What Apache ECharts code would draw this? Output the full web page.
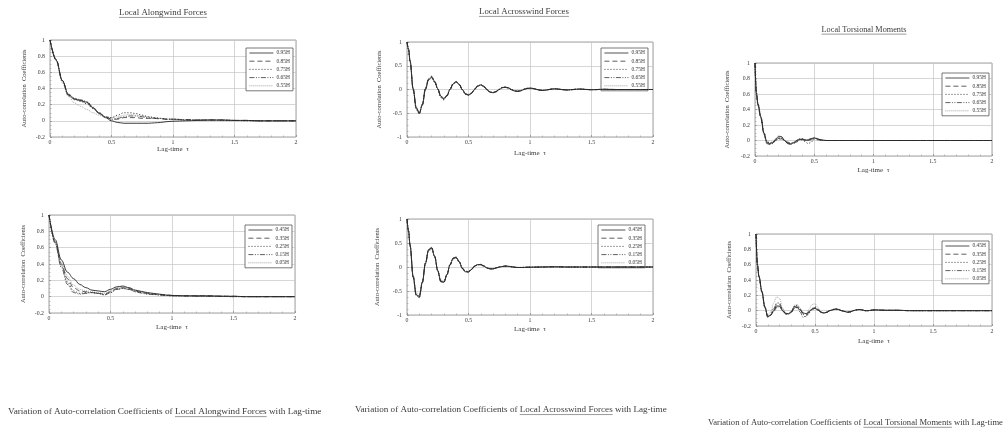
<!DOCTYPE html>
<html><head><meta charset="utf-8">
<script src="https://cdn.jsdelivr.net/npm/echarts@6/dist/echarts.min.js"></script>
<style>html,body{margin:0;padding:0;background:#fff}#c{width:1005px;height:432px}</style>
</head><body><div id="c"></div>
<script>
// ---------- data ----------
const namesUpper = ['0.95H','0.85H','0.75H','0.65H','0.55H'];
const namesLower = ['0.45H','0.35H','0.25H','0.15H','0.05H'];
const xTicks = [0, 0.5, 1, 1.5, 2];
const yTicksCoef = [-0.2, 0, 0.2, 0.4, 0.6, 0.8, 1];
const yTicksAcross = [-1, -0.5, 0, 0.5, 1];

const xsA = [0,0.05,0.1,0.15,0.2,0.25,0.3,0.35,0.4,0.45, 0.5,0.55,0.6,0.65,0.7,0.75,0.8,0.85,0.9,0.95, 1.0,1.1,1.2,1.3,1.4,1.5,1.6,1.7,1.8,1.9, 2.0];
const xsC = [0,0.0125,0.025,0.05,0.075,0.1,0.125,0.15,0.175,0.2, 0.225,0.25,0.275,0.3,0.325,0.35,0.375,0.4,0.425,0.45, 0.475,0.5,0.525,0.55,0.575,0.6,0.625,0.65,0.675,0.7, 0.725,0.75,0.775,0.8,0.825,0.85,0.875,0.9,0.925,0.95, 0.975,1.0,1.1,1.2,1.3,1.4,1.5,1.6,1.7,1.8, 1.9,2.0];

// Local Alongwind Forces (upper levels)
const a95 = [1,0.75,0.5,0.32,0.27,0.25,0.23,0.16,0.09,0.04, 0.0,-0.02,-0.03,-0.03,-0.03,-0.03,-0.03,-0.025,-0.02,-0.01, -0.005,0,0.005,0.01,0.01,0.005,0.005,0,0,0, 0];
const a85 = [1,0.76,0.5,0.32,0.27,0.25,0.22,0.16,0.1,0.05, 0.02,0.02,0.04,0.04,0.04,0.03,0.03,0.03,0.025,0.02, 0.02,0.015,0.01,0.01,0.01,0.005,0.005,0,0,0, 0];
const a75 = [1,0.75,0.49,0.31,0.26,0.24,0.21,0.15,0.09,0.05, 0.04,0.07,0.1,0.1,0.09,0.07,0.05,0.04,0.03,0.02, 0.02,0.01,0.01,0.01,0.005,0.005,0,0,0,0, 0];
const a65 = [1,0.76,0.5,0.33,0.28,0.26,0.24,0.17,0.1,0.05, 0.02,0.03,0.05,0.06,0.06,0.05,0.04,0.03,0.03,0.02, 0.02,0.015,0.01,0.01,0.01,0.005,0.005,0,0,0, 0];
const a55 = [1,0.74,0.47,0.3,0.22,0.18,0.14,0.1,0.07,0.05, 0.04,0.05,0.07,0.08,0.07,0.06,0.05,0.04,0.03,0.02, 0.02,0.01,0.01,0.01,0.005,0,0,0,0,0, 0];
// Local Alongwind Forces (lower levels)
const b45 = [1,0.7,0.45,0.3,0.22,0.15,0.11,0.08,0.07,0.06, 0.09,0.12,0.13,0.11,0.08,0.065,0.05,0.04,0.03,0.02, 0.015,0.01,0.01,0.01,0.005,0.005,0,0,0,0, 0];
const b35 = [1,0.67,0.4,0.22,0.11,0.07,0.06,0.05,0.04,0.03, 0.06,0.1,0.11,0.1,0.07,0.055,0.04,0.03,0.025,0.02, 0.015,0.01,0.01,0.01,0.005,0.005,0,0,0,0, 0];
const b25 = [1,0.66,0.38,0.18,0.07,0.04,0.05,0.05,0.04,0.025, 0.05,0.09,0.1,0.09,0.065,0.05,0.035,0.03,0.02,0.015, 0.01,0.01,0.01,0.005,0.005,0,0,0,0,0, 0];
const b15 = [1,0.65,0.36,0.15,0.05,0.03,0.04,0.05,0.04,0.02, 0.05,0.09,0.1,0.09,0.06,0.045,0.03,0.025,0.02,0.015, 0.01,0.01,0.005,0.005,0.005,0,0,0,0,0, 0];
const b05 = [1,0.68,0.42,0.25,0.14,0.09,0.07,0.06,0.05,0.04, 0.07,0.11,0.12,0.11,0.08,0.06,0.045,0.035,0.03,0.02, 0.015,0.01,0.01,0.01,0.005,0.005,0,0,0,0, 0];
// Local Acrosswind Forces (upper levels)
const c95 = [1,0.85,0.6,0.02,-0.38,-0.5,-0.33,0.0,0.2,0.26, 0.17,0.02,-0.14,-0.19,-0.13,0.0,0.12,0.16,0.11,0.0, -0.09,-0.12,-0.08,0.0,0.07,0.1,0.07,0.0,-0.05,-0.07, -0.05,0.0,0.04,0.05,0.035,0.0,-0.03,-0.04,-0.03,0.0, 0.02,0.03,-0.02,0.015,-0.01,0.01,-0.005,0.005,0,0, 0,0];
const c85 = [1,0.85,0.59,0.0,-0.4,-0.5,-0.32,0.01,0.22,0.28, 0.18,0.01,-0.16,-0.21,-0.14,0.0,0.13,0.17,0.11,-0.01, -0.1,-0.13,-0.08,0.01,0.08,0.1,0.06,-0.01,-0.06,-0.07, -0.04,0.01,0.04,0.05,0.03,-0.01,-0.035,-0.04,-0.025,0.005, 0.025,0.03,-0.02,0.015,-0.01,0.01,-0.005,0.005,0,0, 0,0];
const c75 = [1,0.84,0.58,-0.02,-0.42,-0.52,-0.3,0.03,0.23,0.27, 0.16,0.0,-0.17,-0.22,-0.13,0.01,0.13,0.16,0.1,-0.01, -0.1,-0.12,-0.07,0.01,0.08,0.1,0.06,-0.01,-0.06,-0.065, -0.04,0.01,0.045,0.05,0.03,-0.01,-0.035,-0.035,-0.02,0.01, 0.025,0.025,-0.02,0.015,-0.01,0.01,-0.005,0.005,0,0, 0,0];
const c65 = [1,0.85,0.6,0.01,-0.39,-0.49,-0.31,0.02,0.21,0.25, 0.15,0.01,-0.15,-0.2,-0.12,0.01,0.12,0.15,0.1,0.0, -0.09,-0.11,-0.07,0.01,0.07,0.09,0.06,0.0,-0.05,-0.06, -0.04,0.0,0.035,0.045,0.03,0.0,-0.03,-0.035,-0.025,0.0, 0.02,0.025,-0.015,0.01,-0.01,0.005,-0.005,0,0,0, 0,0];
const c55 = [1,0.86,0.62,0.04,-0.36,-0.47,-0.31,0.0,0.19,0.24, 0.16,0.02,-0.13,-0.18,-0.12,0.0,0.11,0.15,0.1,0.0, -0.08,-0.11,-0.07,0.0,0.06,0.09,0.06,0.0,-0.05,-0.06, -0.04,0.0,0.035,0.045,0.03,0.0,-0.025,-0.035,-0.025,0.0, 0.02,0.025,-0.015,0.01,-0.005,0.005,0,0,0,0, 0,0];
// Local Acrosswind Forces (lower levels)
const d45 = [1,0.75,0.45,-0.2,-0.58,-0.62,-0.32,0.08,0.35,0.4, 0.22,-0.08,-0.3,-0.32,-0.16,0.05,0.18,0.2,0.11,-0.03, -0.1,-0.1,-0.05,0.02,0.05,0.05,0.02,-0.02,-0.04,-0.04, -0.02,0,0.01,0.02,0.015,0.005,-0.005,-0.01,-0.01,-0.01, -0.005,-0.005,0,0.005,0,0,0,0,0,0, 0,0];
const d35 = [1,0.74,0.43,-0.22,-0.6,-0.64,-0.33,0.08,0.36,0.42, 0.23,-0.08,-0.31,-0.33,-0.16,0.05,0.19,0.21,0.11,-0.03, -0.1,-0.11,-0.05,0.02,0.05,0.055,0.02,-0.02,-0.04,-0.04, -0.02,0,0.01,0.02,0.015,0.005,-0.005,-0.01,-0.01,-0.01, -0.005,-0.005,0,0.005,0,0,0,0,0,0, 0,0];
const d25 = [1,0.74,0.44,-0.21,-0.59,-0.63,-0.31,0.09,0.36,0.41, 0.21,-0.09,-0.3,-0.31,-0.15,0.06,0.18,0.19,0.1,-0.04, -0.1,-0.09,-0.04,0.02,0.05,0.045,0.015,-0.02,-0.035,-0.035, -0.015,0,0.01,0.015,0.01,0.005,-0.005,-0.01,-0.01,-0.005, -0.005,0,0,0,0,0,0,0,0,0, 0,0];
const d15 = [1,0.76,0.46,-0.19,-0.57,-0.6,-0.31,0.07,0.34,0.39, 0.22,-0.07,-0.29,-0.31,-0.16,0.04,0.17,0.19,0.11,-0.02, -0.09,-0.1,-0.05,0.015,0.045,0.05,0.02,-0.015,-0.035,-0.04, -0.02,0,0.01,0.02,0.015,0.005,-0.005,-0.01,-0.01,-0.01, -0.005,-0.005,0,0.005,0,0,0,0,0,0, 0,0];
const d05 = [1,0.77,0.48,-0.16,-0.54,-0.58,-0.3,0.06,0.32,0.37, 0.21,-0.06,-0.27,-0.29,-0.15,0.04,0.16,0.18,0.1,-0.02, -0.08,-0.09,-0.05,0.01,0.04,0.045,0.02,-0.01,-0.03,-0.035, -0.02,0,0.01,0.015,0.01,0.005,-0.005,-0.01,-0.01,-0.005, -0.005,0,0,0,0,0,0,0,0,0, 0,0];
// Local Torsional Moments (upper levels)
const t95 = [1,0.6,0.47,0.3,0.1,-0.02,-0.04,-0.03,0.02,0.055, 0.05,0.0,-0.04,-0.05,-0.03,-0.01,0.01,0.015,0.0,0.01, 0.025,0.035,0.02,0.01,0.005,0,0,0,0,0, 0,0,0,0,0,0,0,0,0,0, 0,0,0,0,0,0,0,0,0,0, 0,0];
const t85 = [1,0.58,0.45,0.28,0.08,-0.04,-0.05,-0.03,0.0,0.02, 0.02,0.0,-0.03,-0.04,-0.04,-0.02,0.0,0.01,0.01,0.015, 0.02,0.02,0.01,0.005,0,0,0,0,0,0, 0,0,0,0,0,0,0,0,0,0, 0,0,0,0,0,0,0,0,0,0, 0,0];
const t75 = [1,0.62,0.48,0.31,0.11,-0.01,-0.03,-0.02,0.01,0.03, 0.03,0.0,-0.03,-0.045,-0.03,0.0,0.02,0.02,-0.02,-0.04, -0.02,0.02,0.025,0.01,0,0,0,0,0,0, 0,0,0,0,0,0,0,0,0,0, 0,0,0,0,0,0,0,0,0,0, 0,0];
const t65 = [1,0.6,0.46,0.29,0.09,-0.03,-0.05,-0.04,0.0,0.03, 0.03,0.0,-0.02,-0.035,-0.025,0.0,0.015,0.02,0.01,0.0, 0.01,0.03,0.02,0.01,0,0,0,0,0,0, 0,0,0,0,0,0,0,0,0,0, 0,0,0,0,0,0,0,0,0,0, 0,0];
const t55 = [1,0.61,0.47,0.3,0.1,-0.02,-0.03,-0.02,0.01,0.04, 0.04,0.0,-0.035,-0.04,-0.02,0.0,0.02,0.025,0.015,0.005, 0.015,0.04,0.03,0.015,0.005,0,0,0,0,0, 0,0,0,0,0,0,0,0,0,0, 0,0,0,0,0,0,0,0,0,0, 0,0];
// Local Torsional Moments (lower levels)
const s45 = [1,0.6,0.45,0.25,0.05,-0.08,-0.06,0.0,0.06,0.06, 0.0,-0.04,-0.04,-0.01,0.05,0.04,0.01,-0.03,-0.04,-0.01, 0.02,0.03,0.01,-0.02,-0.03,-0.02,0.0,0.01,0.02,0.015, 0.0,-0.01,-0.02,-0.015,0.0,0.01,0.015,0.01,0.0,0.0, 0.005,0.01,0.005,0.005,0,0,0,0,0,0, 0,0];
const s35 = [1,0.58,0.44,0.24,0.04,-0.09,-0.06,0.02,0.08,0.08, 0.01,-0.04,-0.05,-0.02,0.05,0.05,0.01,-0.04,-0.06,-0.02, 0.02,0.04,0.02,-0.02,-0.035,-0.02,0.0,0.015,0.02,0.015, 0.0,-0.01,-0.02,-0.015,0.0,0.01,0.015,0.01,0.0,0.0, 0.005,0.01,0.005,0.005,0,0,0,0,0,0, 0,0];
const s25 = [1,0.59,0.44,0.24,0.04,-0.08,-0.05,0.03,0.1,0.1, 0.02,-0.04,-0.05,-0.02,0.06,0.07,0.02,-0.05,-0.08,-0.03, 0.03,0.05,0.02,-0.02,-0.035,-0.02,0.0,0.015,0.025,0.015, 0.0,-0.01,-0.02,-0.015,0.0,0.01,0.015,0.01,0.0,0.0, 0.005,0.01,0.005,0.005,0,0,0,0,0,0, 0,0];
const s15 = [1,0.6,0.45,0.25,0.05,-0.07,-0.06,-0.01,0.04,0.05, 0.0,-0.03,-0.04,-0.02,0.03,0.04,-0.02,-0.09,-0.06,-0.02, 0.01,0.03,0.01,-0.02,-0.03,-0.02,0.0,0.01,0.02,0.015, 0.0,-0.01,-0.02,-0.015,0.0,0.01,0.015,0.01,0.0,0.0, 0.005,0.01,0.005,0.005,0,0,0,0,0,0, 0,0];
const s05 = [1,0.61,0.46,0.26,0.06,-0.06,-0.02,0.1,0.18,0.16, 0.04,-0.03,-0.04,0.0,0.07,0.08,0.03,-0.03,-0.04,0.02, 0.08,0.09,0.04,-0.01,-0.03,-0.02,0.0,0.015,0.025,0.02, 0.0,-0.01,-0.02,-0.015,0.0,0.01,0.015,0.01,0.0,0.0, 0.005,0.01,0.005,0.005,0,0,0,0,0,0, 0,0];

const titles = ['Local Alongwind Forces', 'Local Acrosswind Forces', 'Local Torsional Moments'];
const capPrefix = 'Variation of Auto-correlation Coefficients of ';
const capSuffix = ' with Lag-time';
const yName = 'Auto-correlation  Coefficients';
const xName = 'Lag-time  \u03c4';

// ---------- layout / styles ----------
const FONT = '"Liberation Serif","DejaVu Serif",serif';
const TXT = '#3a3a3a';
const LINESTY = [
  {type: 'solid', width: 0.9, color: '#262626'},
  {type: [5, 3], width: 0.8, color: '#333'},
  {type: [1.2, 1.8], width: 0.9, color: '#333'},
  {type: [5, 1.5, 1, 1.5, 1, 1.5], width: 0.8, color: '#333'},
  {type: [1, 1], width: 0.7, color: '#8a8a8a'}
];

const panels = [
  {names: namesUpper, xs: xsA, ys: [a95,a85,a75,a65,a55], yt: yTicksCoef, grid: {left: 50, top: 40, width: 246, height: 97}, leg: {left: 246, top: 48}, xg: 8, yg: 22},
  {names: namesUpper, xs: xsC, ys: [c95,c85,c75,c65,c55], yt: yTicksAcross, grid: {left: 407, top: 42, width: 246, height: 95}, leg: {left: 601, top: 48}, xg: 13, yg: 24},
  {names: namesUpper, xs: xsC, ys: [t95,t85,t75,t65,t55], yt: yTicksCoef, grid: {left: 755, top: 63, width: 237, height: 93}, leg: {left: 942, top: 73}, xg: 11, yg: 24},
  {names: namesLower, xs: xsA, ys: [b45,b35,b25,b15,b05], yt: yTicksCoef, grid: {left: 49, top: 215, width: 246, height: 98}, leg: {left: 245, top: 225}, xg: 11, yg: 22},
  {names: namesLower, xs: xsC, ys: [d45,d35,d25,d15,d05], yt: yTicksAcross, grid: {left: 407, top: 219, width: 246, height: 96}, leg: {left: 598, top: 225}, xg: 11, yg: 26},
  {names: namesLower, xs: xsC, ys: [s45,s35,s25,s15,s05], yt: yTicksCoef, grid: {left: 756, top: 234, width: 236, height: 92}, leg: {left: 942, top: 241}, xg: 12, yg: 23}
];

const cv = document.createElement('canvas').getContext('2d');
function measure(t, fs) { cv.font = fs + 'px ' + FONT; return cv.measureText(t).width; }

const grids = [], xAxes = [], yAxes = [], series = [], legends = [];
panels.forEach((p, i) => {
  grids.push(Object.assign({show: true, borderColor: '#8c8c8c', borderWidth: 0.8, backgroundColor: '#fff'}, p.grid));
  xAxes.push({
    type: 'value', gridIndex: i, min: xTicks[0], max: xTicks[xTicks.length - 1], interval: xTicks[1] - xTicks[0],
    name: xName, nameLocation: 'middle', nameGap: p.xg,
    nameTextStyle: {fontFamily: FONT, fontSize: 7, color: TXT},
    axisLine: {show: false, onZero: false},
    axisTick: {show: true, inside: true, length: 2, lineStyle: {color: '#777', width: 0.6}},
    minorTick: {show: true, splitNumber: 5, length: 1.5, lineStyle: {color: '#888', width: 0.5}},
    axisLabel: {fontFamily: FONT, fontSize: 5.8, color: TXT, margin: 2},
    splitLine: {show: true, lineStyle: {color: '#c4c4c4', width: 0.7}}
  });
  const yt = p.yt;
  yAxes.push({
    type: 'value', gridIndex: i, min: yt[0], max: yt[yt.length - 1], interval: yt[1] - yt[0],
    name: yName, nameLocation: 'middle', nameGap: p.yg,
    nameTextStyle: {fontFamily: FONT, fontSize: 6.5, color: TXT},
    axisLine: {show: false, onZero: false},
    axisTick: {show: true, inside: true, length: 2, lineStyle: {color: '#777', width: 0.6}},
    minorTick: {show: true, splitNumber: 4, length: 1.5, lineStyle: {color: '#888', width: 0.5}},
    axisLabel: {fontFamily: FONT, fontSize: 5.8, color: TXT, margin: 5},
    splitLine: {show: true, lineStyle: {color: '#c4c4c4', width: 0.7}}
  });
  p.ys.forEach((ys, k) => {
    series.push({
      type: 'line', name: p.names[k], xAxisIndex: i, yAxisIndex: i,
      data: p.xs.map((x, j) => [x, ys[j]]),
      showSymbol: false, symbol: 'none', smooth: 0.35, smoothMonotone: 'x',
      lineStyle: Object.assign({}, LINESTY[k]), itemStyle: {color: LINESTY[k].color},
      z: 10 - k, animation: false
    });
  });
  legends.push({
    data: p.names, left: p.leg.left, top: p.leg.top, orient: 'vertical',
    itemWidth: 24, itemHeight: 5, itemGap: 2.2, padding: [2, 3, 2, 3],
    borderColor: '#555', borderWidth: 0.8, backgroundColor: '#fff',
    selectedMode: false, itemStyle: {opacity: 0},
    lineStyle: {width: 0.8},
    textStyle: {fontFamily: FONT, fontSize: 5.5, color: TXT, padding: [0, 0, 0, -2]}
  });
});

// titles & captions (underlined phrases)
const graphics = [];
function underlinedText(parts, leftX, midY, fs) {
  const full = parts.join('');
  graphics.push({type: 'text', x: leftX, y: midY, silent: true,
    style: {text: full, fontFamily: FONT, fontSize: fs, fill: TXT, textAlign: 'left', textVerticalAlign: 'middle', align: 'left', verticalAlign: 'middle'}});
  const x1 = leftX + measure(parts[0], fs);
  const x2 = x1 + measure(parts[1], fs);
  graphics.push({type: 'line', silent: true, shape: {x1: x1, y1: midY + fs * 0.5, x2: x2, y2: midY + fs * 0.5}, style: {stroke: '#555', lineWidth: 0.6}});
}
function fitSize(text, width) { return 10 * width / measure(text, 10); }
[[163, 13, 88], [524, 12, 90], [864, 30, 85]].forEach((t, i) => {
  const fs = fitSize(titles[i], t[2]);
  const w = measure(titles[i], fs);
  underlinedText(['', titles[i], ''], t[0] - w / 2, t[1], fs);
});
[[8, 412, 314], [355, 410, 312], [708, 423, 295]].forEach((c, i) => {
  const full = capPrefix + titles[i] + capSuffix;
  const fs = fitSize(full, c[2]);
  underlinedText([capPrefix, titles[i], capSuffix], c[0], c[1], fs);
});

const chart = echarts.init(document.getElementById('c'), null, {renderer: 'canvas'});
chart.setOption({
  backgroundColor: '#fff', animation: false,
  grid: grids, xAxis: xAxes, yAxis: yAxes, series: series, legend: legends, graphic: graphics
});
</script></body></html>
